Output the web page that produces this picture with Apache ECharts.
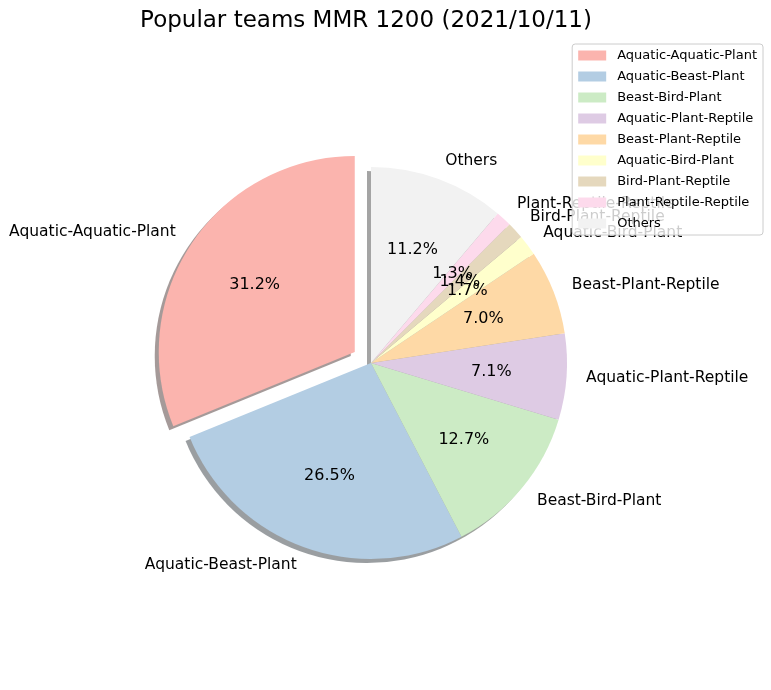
<!DOCTYPE html>
<html>
<head>
<meta charset="utf-8">
<script src="https://cdn.jsdelivr.net/npm/echarts@6/dist/echarts.min.js"></script>
<style>
  html, body { margin: 0; padding: 0; background: #fff; }
  #main { width: 771px; height: 690px; }
</style>
</head>
<body>
<div id="main"></div>
<script>
// チーム構成と割合 (%)
var teams = [
  'Aquatic-Aquatic-Plant',
  'Aquatic-Beast-Plant',
  'Beast-Bird-Plant',
  'Aquatic-Plant-Reptile',
  'Beast-Plant-Reptile',
  'Aquatic-Bird-Plant',
  'Bird-Plant-Reptile',
  'Plant-Reptile-Reptile',
  'Others'
]
var shares = [31.2, 26.5, 12.7, 7.1, 7.0, 1.7, 1.4, 1.3, 11.2]
var colors = ['#fbb4ae', '#b3cde3', '#ccebc5', '#decbe4', '#fed9a6', '#ffffcc', '#e5d8bd', '#fddaec', '#f2f2f2']

var FONT = '"DejaVu Sans", sans-serif'
var R = 196
var CX = 371, CY = 363
var explode = R * 0.1

function shade(hex) {
  var r = parseInt(hex.slice(1, 3), 16), g = parseInt(hex.slice(3, 5), 16), b = parseInt(hex.slice(5, 7), 16)
  return 'rgba(' + Math.round(r * 0.3) + ',' + Math.round(g * 0.3) + ',' + Math.round(b * 0.3) + ',0.5)'
}

function items(colorFn) {
  return teams.map(function (name, i) {
    return {
      name: name,
      value: shares[i],
      selected: i === 0,
      itemStyle: { color: colorFn(i) }
    }
  })
}

var chart = echarts.init(document.getElementById('main'))
var option = {
  animation: false,
  title: {
    text: 'Popular teams MMR 1200 (2021/10/11)',
    left: 361,
    top: 5,
    textAlign: 'center',
    textStyle: { fontFamily: FONT, fontSize: 23, fontWeight: 'normal', color: '#000' }
  },
  legend: {
    orient: 'vertical',
    right: 8,
    top: 44,
    icon: 'rect',
    itemWidth: 28,
    itemHeight: 10,
    itemGap: 8,
    padding: [5, 6, 5, 6],
    backgroundColor: 'rgba(255,255,255,0.8)',
    borderColor: '#cccccc',
    borderWidth: 1,
    borderRadius: 3,
    selectedMode: false,
    data: teams,
    textStyle: { fontFamily: FONT, fontSize: 13, color: '#000', padding: [0, 0, 0, 6] }
  },
  series: [
    {
      // 本体
      type: 'pie',
      z: 3,
      center: [CX, CY],
      radius: R,
      startAngle: 90,
      clockwise: false,
      selectedMode: 'single',
      selectedOffset: explode,
      avoidLabelOverlap: false,
      minShowLabelAngle: 0,
      silent: true,
      data: items(function (i) { return colors[i] }),
      label: {
        show: true,
        position: 'outside',
        distanceToLabelLine: 0,
        fontFamily: FONT,
        fontSize: 15.5,
        color: '#000',
        formatter: '{b}'
      },
      labelLine: { show: false, length: explode, length2: 0 },
      labelLayout: { hideOverlap: false }
    },
    {
      // 影
      type: 'pie',
      z: 2,
      center: [CX - 4, CY + 4],
      radius: R,
      startAngle: 90,
      clockwise: false,
      selectedMode: 'single',
      selectedOffset: explode,
      silent: true,
      data: items(function (i) { return shade(colors[i]) }),
      label: { show: false },
      labelLine: { show: false }
    },
    {
      // パーセント表示
      type: 'pie',
      z: 4,
      center: [CX, CY],
      radius: R * 1.2,
      startAngle: 90,
      clockwise: false,
      selectedMode: 'single',
      selectedOffset: explode,
      avoidLabelOverlap: false,
      minShowLabelAngle: 0,
      silent: true,
      data: items(function () { return 'rgba(0,0,0,0)' }),
      label: {
        show: true,
        position: 'inside',
        fontFamily: FONT,
        fontSize: 16,
        color: '#000',
        formatter: function (p) { return p.value.toFixed(1) + '%' }
      },
      labelLine: { show: false },
      labelLayout: { hideOverlap: false }
    }
  ]
}
chart.setOption(option)
</script>
</body>
</html>
